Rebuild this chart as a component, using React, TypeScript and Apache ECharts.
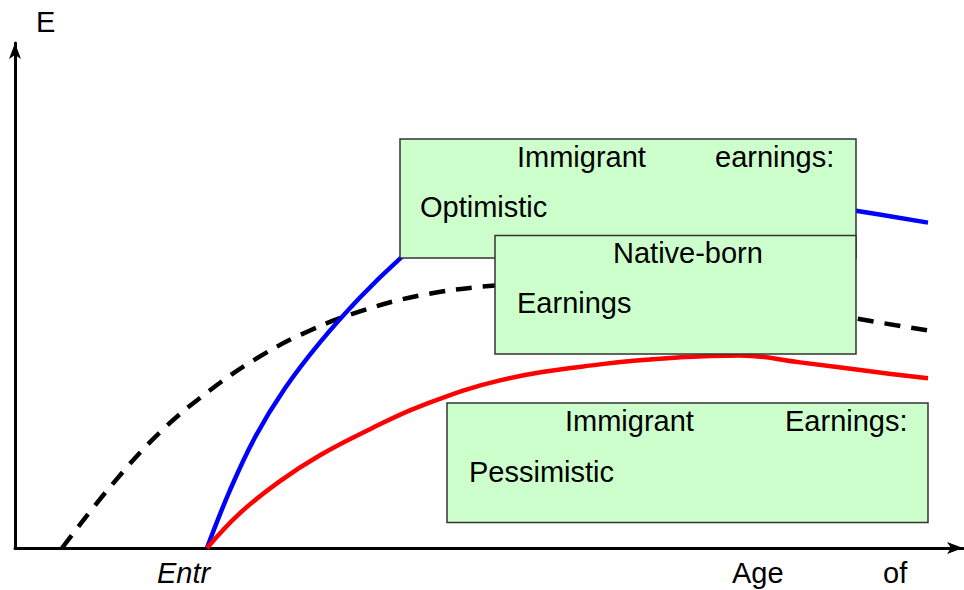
import React, { useEffect, useRef } from "react";
import * as echarts from "echarts";

// x: age (arbitrary units 0-100), y: earnings (arbitrary units 0-100)
const nativeX = [4.96, 10.02, 15.3, 20.57, 25.84, 31.12, 36.39, 42.72, 50.63, 58.54, 66.98, 77.53, 88.71, 96.31];
const nativeY = [0, 12.06, 22.92, 31.23, 37.94, 43.08, 46.84, 50.0, 51.98, 52.57, 51.78, 49.41, 45.45, 43.08];

const optX = [20.25, 22.68, 25.32, 28.48, 32.17, 36.39, 40.61, 44.83, 51.16, 59.6, 70.15, 80.7, 88.71, 96.31];
const optY = [0, 11.46, 21.94, 31.62, 40.71, 49.6, 57.31, 63.83, 67.59, 69.37, 69.96, 69.17, 66.8, 64.43];

const pessX = [20.25, 23.73, 27.95, 32.17, 37.45, 42.72, 51.16, 61.71, 70.15, 76.48, 82.81, 90.19, 96.31];
const pessY = [0, 6.92, 13.24, 18.38, 23.52, 28.06, 33.2, 36.36, 37.75, 38.14, 36.76, 34.98, 33.6];

const yAxisName = "E";
const xLabelEntry = "Entr";
const xLabelAge = ["Age", "of"];
const boxTexts = {
  optimistic: ["Immigrant", "earnings:", "Optimistic"],
  native: ["Native-born", "Earnings"],
  pessimistic: ["Immigrant", "Earnings:", "Pessimistic"],
};

const zip = (xs: number[], ys: number[]) => xs.map((x, i) => [x, ys[i]]);

const FONT = "'Liberation Sans', Arial, sans-serif";
const FS = 29;

export default function App() {
  const ref = useRef<HTMLDivElement>(null);
  useEffect(() => {
    if (!ref.current) return;
    const chart = echarts.init(ref.current, undefined, { renderer: "svg" });
    const txt = (text: string, x: number, baseline: number, extra: any = {}) => ({
      type: "text",
      x,
      y: baseline - 10,
      z: 110,
      style: {
        text,
        fill: "#000",
        font: `${extra.italic ? "italic " : ""}${FS}px ${FONT}`,
        align: "left",
        verticalAlign: "middle",
      },
    });
    const box = (x1: number, y1: number, x2: number, y2: number, z: number) => ({
      type: "rect",
      z,
      shape: { x: x1, y: y1, width: x2 - x1, height: y2 - y1 },
      style: { fill: "#ccffcc", stroke: "#333", lineWidth: 1.5 },
    });
    const lineStyle = (color: string, type: any = "solid") => ({ color, width: 4.5, type });
    const axisCommon = {
      type: "value",
      min: 0,
      max: 100,
      axisLine: { show: true, symbol: ["none", "arrow"], symbolSize: [9, 16], lineStyle: { color: "#000", width: 3 } },
      axisTick: { show: false },
      axisLabel: { show: false },
      splitLine: { show: false },
    };
    const lineSeries = (xs: number[], ys: number[], ls: any) => ({
      type: "line",
      data: zip(xs, ys),
      smooth: 0.4,
      smoothConstraint: false,
      showSymbol: false,
      lineStyle: ls,
    });
    chart.setOption({
      animation: false,
      grid: { left: 15, right: 1, top: 43, bottom: 42, containLabel: false },
      xAxis: axisCommon,
      yAxis: axisCommon,
      series: [
        lineSeries(nativeX, nativeY, lineStyle("#000", [16, 11])),
        lineSeries(optX, optY, lineStyle("#0000ff")),
        lineSeries(pessX, pessY, lineStyle("#ff0000")),
      ],
      graphic: [
        box(400, 139, 856, 258, 100),
        txt(boxTexts.optimistic[0], 517, 167),
        txt(boxTexts.optimistic[1], 715, 167),
        txt(boxTexts.optimistic[2], 420, 217),
        box(495, 235.5, 856, 354, 101),
        txt(boxTexts.native[0], 613, 263),
        txt(boxTexts.native[1], 517, 313),
        box(447, 403, 928, 522.5, 100),
        txt(boxTexts.pessimistic[0], 565, 431),
        txt(boxTexts.pessimistic[1], 785, 431),
        txt(boxTexts.pessimistic[2], 469, 482),
        txt(yAxisName, 36, 32),
        txt(xLabelEntry, 157, 583, { italic: true }),
        txt(xLabelAge[0], 732, 583),
        txt(xLabelAge[1], 883, 583),
      ],
    });
    return () => chart.dispose();
  }, []);
  return <div ref={ref} style={{ position: "absolute", left: 0, top: 0, width: 964, height: 590 }} />;
}
